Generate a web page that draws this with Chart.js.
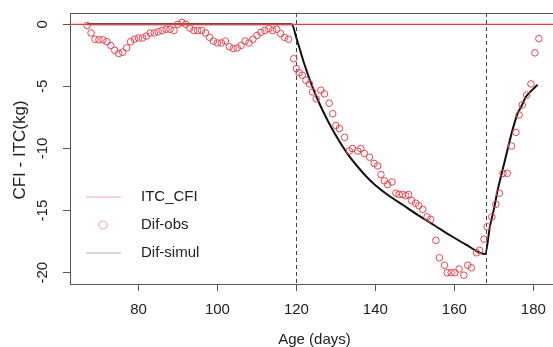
<!DOCTYPE html>
<html>
<head>
<meta charset="utf-8">
<script src="https://cdn.jsdelivr.net/npm/chart.js@4.4.1/dist/chart.umd.min.js"></script>
<style>
  html, body { margin: 0; padding: 0; background: #fff; overflow: hidden; }
  #wrap { position: relative; width: 580px; height: 349px; }
</style>
</head>
<body>
<div id="wrap"><canvas id="c"></canvas></div>
<script>
// ---- data ----
const obsDays = [67,68,69,70,71,72,73,74,75,76,77,78,79,80,81,82,83,84,85,86,87,88,89,90,91,92,93,94,95,96,97,98,99,100,101,102,103,104,105,106,107,108,109,110,111,112,113,114,115,116,117,118,
  119.3,120,120.7,121.5,122.4,123.3,124.1,125,126.2,127.1,128.3,129.2,130,130.9,132.2,133.4,134.2,135.5,136.3,137.2,138.5,139.7,140.6,141.4,142.3,143.1,144.2,145.2,146,146.9,147.7,148.4,149.2,150.2,151,152,153.1,154,
  155.3,156.2,157.5,158.2,159.2,160.1,161.2,162.4,163.4,164.3,165.6,166.4,167.5,168.3,169.5,170.5,171.4,172.3,173.4,174.5,175.6,176.4,177.2,178.3,179.4,180.4,181.4];
const obsValues = [-0.1,-0.7,-1.2,-1.25,-1.25,-1.4,-1.7,-2.1,-2.35,-2.25,-1.9,-1.4,-1.2,-1.1,-1.1,-0.95,-0.7,-0.7,-0.6,-0.5,-0.4,-0.4,-0.5,0,0.15,0,-0.3,-0.5,-0.5,-0.5,-0.7,-1.05,-1.35,-1.5,-1.5,-1.35,-1.8,-1.95,-1.9,-1.7,-1.35,-1.5,-1.2,-0.9,-0.65,-0.5,-0.35,-0.5,-0.4,-0.75,-1.05,-1.2,
  -2.77,-3.57,-3.9,-4.1,-4.5,-4.8,-5.45,-6.0,-5.3,-5.6,-6.35,-7.2,-8.15,-8.4,-9.1,-10.2,-10.0,-10.2,-10.0,-10.4,-10.7,-11.2,-11.4,-12.1,-12.6,-12.9,-12.7,-13.6,-13.7,-13.7,-13.8,-13.7,-14.2,-14.4,-14.6,-14.9,-15.5,-15.7,
  -17.4,-18.8,-19.4,-20.0,-20.0,-20.0,-19.7,-20.2,-19.4,-19.6,-18.4,-18.2,-17.3,-16.3,-15.5,-14.5,-13.6,-12.0,-12.0,-9.8,-8.7,-7.3,-6.5,-5.7,-4.8,-2.3,-1.15];

const simulDays = [67,118.8,120,122,124,126,128,130,133,136,138,140,143,147,151,155,159,163,167.8,169,170,171,172,173,174,175,176,177,178,179,180,181.1];
const simulValues = [0,0,-1.1,-3.2,-5.0,-6.5,-7.8,-8.95,-10.45,-11.65,-12.35,-12.95,-13.7,-14.55,-15.4,-16.2,-17.0,-17.75,-18.5,-16.3,-14.9,-13.3,-12.0,-10.7,-9.4,-8.2,-7.2,-6.6,-5.9,-5.5,-5.2,-4.86];

const itcDays = [55, 195];
const itcValues = [0, 0];

const vlineDays = [120, 168];
const xTicks = [80, 100, 120, 140, 160, 180];
const yTicks = [-20, -15, -10, -5, 0];
const legendLabels = ['ITC_CFI', 'Dif-obs', 'Dif-simul'];

const X_MIN = 62.66, X_MAX = 186.5, Y_MIN = -20.91, Y_MAX = 0.91;
const FONT = '"Liberation Sans", Arial, sans-serif';
const TXT = '#222';
const AXC = '#555';

const pts = (xs, ys) => xs.map((x, i) => ({ x: x, y: ys[i] }));

const extras = {
  id: 'extras',
  beforeDatasetsDraw(chart) {
    const { ctx, chartArea: a, scales: { x } } = chart;
    ctx.save();
    ctx.strokeStyle = '#444';
    ctx.lineWidth = 1;
    ctx.setLineDash([4, 3]);
    vlineDays.forEach(d => {
      const px = Math.round(x.getPixelForValue(d)) + 0.5;
      ctx.beginPath(); ctx.moveTo(px, a.top); ctx.lineTo(px, a.bottom); ctx.stroke();
    });
    ctx.restore();
  },
  afterDraw(chart) {
    const { ctx, chartArea: a, scales: { y } } = chart;
    ctx.save();
    // box top / right
    ctx.strokeStyle = AXC; ctx.lineWidth = 1;
    ctx.beginPath();
    ctx.moveTo(a.left, a.top + 0.5); ctx.lineTo(a.right, a.top + 0.5); ctx.lineTo(a.right, a.bottom);
    ctx.stroke();
    // y tick labels (rotated)
    ctx.fillStyle = TXT;
    ctx.font = '15px ' + FONT;
    ctx.textAlign = 'center'; ctx.textBaseline = 'middle';
    yTicks.forEach(v => {
      const py = y.getPixelForValue(v);
      ctx.save(); ctx.translate(43, py); ctx.rotate(-Math.PI / 2);
      ctx.fillText(String(v), 0, 0); ctx.restore();
    });
    // y title
    ctx.save(); ctx.translate(20, 150); ctx.rotate(-Math.PI / 2);
    ctx.font = '17px ' + FONT;
    ctx.fillText('CFI - ITC(kg)', 0, 0); ctx.restore();
    // legend
    const lx = 86, tx = 141, rows = [197, 225, 253];
    ctx.lineWidth = 1.2;
    ctx.strokeStyle = '#f4a6a6';
    ctx.beginPath(); ctx.moveTo(lx, rows[0]); ctx.lineTo(lx + 35, rows[0]); ctx.stroke();
    ctx.strokeStyle = '#f2a9b6';
    ctx.beginPath(); ctx.arc(lx + 17, rows[1], 4, 0, Math.PI * 2); ctx.stroke();
    ctx.strokeStyle = '#b0b0b0';
    ctx.beginPath(); ctx.moveTo(lx, rows[2]); ctx.lineTo(lx + 35, rows[2]); ctx.stroke();
    ctx.fillStyle = TXT; ctx.textAlign = 'left'; ctx.font = '15px ' + FONT;
    legendLabels.forEach((t, i) => ctx.fillText(t, tx, rows[i]));
    ctx.restore();
  }
};

new Chart(document.getElementById('c'), {
  type: 'scatter',
  data: {
    datasets: [
      { label: legendLabels[0], data: pts(itcDays, itcValues), showLine: true, borderColor: '#ee3b3b', borderWidth: 1.3, pointRadius: 0, order: 1 },
      { label: legendLabels[1], data: pts(obsDays, obsValues), showLine: false, borderColor: '#e8454f', backgroundColor: 'rgba(0,0,0,0)', borderWidth: 1, pointRadius: 3.3, pointStyle: 'circle', order: 2 },
      { label: legendLabels[2], data: pts(simulDays, simulValues), showLine: true, borderColor: '#111', borderWidth: 2, pointRadius: 0, cubicInterpolationMode: 'monotone', order: 3 }
    ]
  },
  options: {
    responsive: true,
    maintainAspectRatio: false,
    animation: false,
    events: [],
    layout: { padding: { top: 13, right: 21, left: 0, bottom: 0 } },
    plugins: { legend: { display: false }, tooltip: { enabled: false }, title: { display: false } },
    scales: {
      x: {
        type: 'linear', min: X_MIN, max: X_MAX,
        afterBuildTicks: s => { s.ticks = xTicks.map(v => ({ value: v })); },
        afterFit: s => { s.height = 65; },
        grid: { drawOnChartArea: false, drawTicks: true, tickLength: 7, color: AXC },
        border: { display: true, color: AXC, width: 1 },
        ticks: { color: TXT, font: { family: FONT, size: 15 }, padding: 10, maxRotation: 0, autoSkip: false },
        title: { display: true, text: 'Age (days)', color: TXT, font: { family: FONT, size: 15 }, padding: { top: 0, bottom: 0 } }
      },
      y: {
        type: 'linear', min: Y_MIN, max: Y_MAX,
        afterBuildTicks: s => { s.ticks = yTicks.map(v => ({ value: v })); },
        afterFit: s => { s.width = 70; },
        grid: { drawOnChartArea: false, drawTicks: true, tickLength: 7, color: AXC },
        border: { display: true, color: AXC, width: 1 },
        ticks: { display: false }
      }
    }
  },
  plugins: [extras]
});
</script>
</body>
</html>
